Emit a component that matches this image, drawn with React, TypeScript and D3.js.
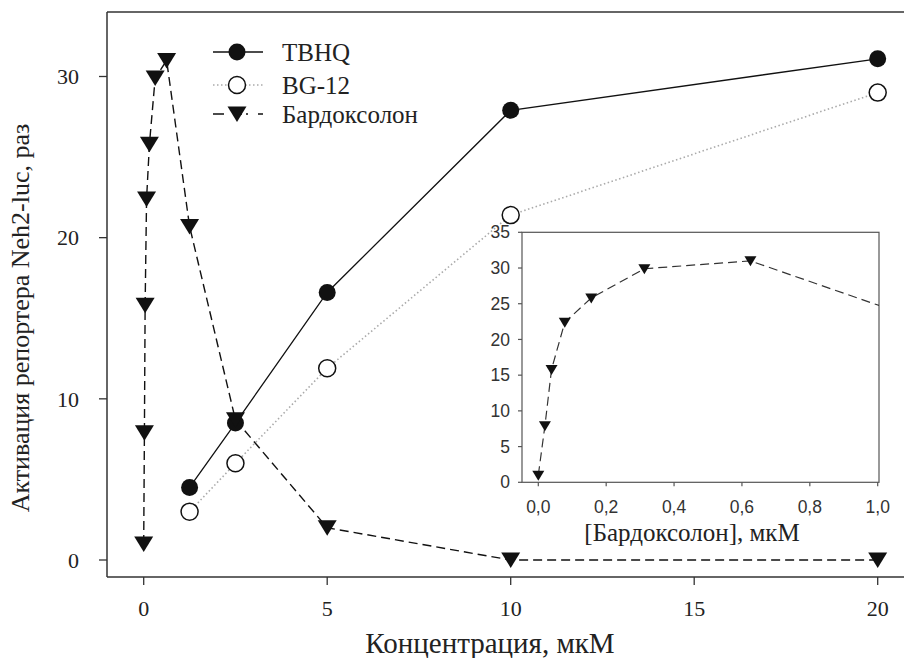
import React from "react";
import * as d3 from "d3";

const conc = [1.25, 2.5, 5, 10, 20];
const tbhq = [4.5, 8.5, 16.6, 27.9, 31.1];
const bg12 = [3.0, 6.0, 11.9, 21.4, 29.0];
const bardConc = [0, 0.0195, 0.039, 0.078, 0.156, 0.3125, 0.625, 1.25, 2.5, 5, 10, 20];
const bardoxolone = [1, 7.9, 15.8, 22.4, 25.8, 29.9, 31.0, 20.7, 8.7, 2.0, 0, 0];
const xTicks = [0, 5, 10, 15, 20];
const yTicks = [0, 10, 20, 30];
const insetXTicks = [0, 0.2, 0.4, 0.6, 0.8, 1.0];
const insetYTicks = [0, 5, 10, 15, 20, 25, 30, 35];
const legendLabels = ["TBHQ", "BG-12", "Бардоксолон"];
const xTitle = "Концентрация, мкМ";
const yTitle = "Активация репортера Neh2-luc, раз";
const insetTitle = "[Бардоксолон], мкМ";

const SERIF = "'Liberation Serif', 'Times New Roman', serif";
const SANS = "'Liberation Sans', Arial, sans-serif";

const W = 904, H = 658;

function tri(cx: number, cy: number, hw: number, up: number, down: number) {
  return `M${cx - hw},${cy - up}L${cx + hw},${cy - up}L${cx},${cy + down}Z`;
}

export default function App() {
  const x = d3.scaleLinear().domain([0, 20]).range([143.7, 877.7]);
  const y = d3.scaleLinear().domain([0, 30]).range([560, 76.5]);
  const left = x(-1), right = W, top = 12, bottom = 577;

  const ix = d3.scaleLinear().domain([0, 1]).range([538.3, 877.7]);
  const iy = d3.scaleLinear().domain([0, 35]).range([482.3, 232.3]);
  const iLeft = 522, iRight = 879, iTop = iy(35), iBottom = iy(0);

  const tbhqPts = conc.map((c, i) => [c, tbhq[i]] as [number, number]);
  const bgPts = conc.map((c, i) => [c, bg12[i]] as [number, number]);
  const bardPts = bardConc.map((c, i) => [c, bardoxolone[i]] as [number, number]);

  const line = d3.line<[number, number]>().x(d => x(d[0])).y(d => y(d[1]));
  const iline = d3.line<[number, number]>().x(d => ix(d[0])).y(d => iy(d[1]));

  const fmtInset = (v: number) => d3.format(".1f")(v).replace(".", ",");

  const lg = [52, 85, 114];

  return (
    <svg width={W} height={H} style={{ position: "absolute", left: 0, top: 0, background: "#fff" }}>
      <rect x={0} y={0} width={W} height={H} fill="#fff" />
      {/* frame */}
      <g stroke="#333" strokeWidth={1.5} fill="none">
        <line x1={left} y1={top} x2={left} y2={bottom} />
        <line x1={left} y1={top} x2={right} y2={top} />
        <line x1={left} y1={bottom} x2={right} y2={bottom} />
      </g>
      {/* y ticks */}
      {yTicks.map(t => (
        <g key={"yt" + t}>
          <line x1={left - 8} x2={left} y1={y(t)} y2={y(t)} stroke="#333" strokeWidth={1.3} />
          <text x={79} y={y(t)} dy="0.35em" textAnchor="end" fontFamily={SERIF} fontSize={22} fill="#222">{t}</text>
        </g>
      ))}
      {/* x ticks */}
      {xTicks.map(t => (
        <g key={"xt" + t}>
          <line x1={x(t)} x2={x(t)} y1={bottom} y2={bottom + 8} stroke="#333" strokeWidth={1.3} />
          <text x={x(t)} y={616} textAnchor="middle" fontFamily={SERIF} fontSize={22} fill="#222">{t}</text>
        </g>
      ))}
      <text x={490} y={653} textAnchor="middle" fontFamily={SERIF} fontSize={29} fill="#222">{xTitle}</text>
      <text transform={`translate(29,318) rotate(-90)`} textAnchor="middle" fontFamily={SERIF} fontSize={26} fill="#222">{yTitle}</text>

      {/* series lines */}
      <path d={line(bgPts) || ""} fill="none" stroke="#aaa" strokeWidth={1.6} strokeDasharray="1.5,2.5" />
      <path d={line(tbhqPts) || ""} fill="none" stroke="#111" strokeWidth={1.3} />
      <path d={line(bardPts) || ""} fill="none" stroke="#111" strokeWidth={1.4} strokeDasharray="9,5" />

      {/* markers */}
      {bgPts.map((p, i) => (
        <circle key={"bg" + i} cx={x(p[0])} cy={y(p[1])} r={8.5} fill="#fff" stroke="#111" strokeWidth={1.5} />
      ))}
      {tbhqPts.map((p, i) => (
        <circle key={"tb" + i} cx={x(p[0])} cy={y(p[1])} r={8.5} fill="#111" />
      ))}
      {bardPts.map((p, i) => (
        <path key={"bd" + i} d={tri(x(p[0]), y(p[1]), 9.5, 7.5, 8)} fill="#111" />
      ))}

      {/* legend */}
      <line x1={213} x2={263} y1={lg[0]} y2={lg[0]} stroke="#111" strokeWidth={1.3} />
      <circle cx={237} cy={lg[0]} r={8.5} fill="#111" />
      <line x1={213} x2={263} y1={lg[1]} y2={lg[1]} stroke="#aaa" strokeWidth={1.6} strokeDasharray="1.5,2.5" />
      <circle cx={237} cy={lg[1]} r={8.5} fill="#fff" stroke="#111" strokeWidth={1.5} />
      <line x1={213} x2={263} y1={lg[2]} y2={lg[2]} stroke="#111" strokeWidth={1.4} strokeDasharray="11,13,5,4,2,10" />
      <path d={tri(237, lg[2], 9.5, 7.5, 8)} fill="#111" />
      {legendLabels.map((l, i) => (
        <text key={l} x={282} y={lg[i]} dy="0.35em" fontFamily={SERIF} fontSize={25} fill="#222">{l}</text>
      ))}

      {/* inset */}
      <defs>
        <clipPath id="insetClip">
          <rect x={iLeft} y={iTop} width={iRight - iLeft} height={iBottom - iTop} />
        </clipPath>
      </defs>
      <rect x={iLeft} y={iTop} width={iRight - iLeft} height={iBottom - iTop} fill="#fff" stroke="#555" strokeWidth={1.2} />
      {insetYTicks.map(t => (
        <g key={"iyt" + t}>
          <line x1={iLeft - 4} x2={iLeft} y1={iy(t)} y2={iy(t)} stroke="#555" strokeWidth={1.2} />
          <text x={510} y={iy(t)} dy="0.35em" textAnchor="end" fontFamily={SANS} fontSize={17.5} fill="#333">{t}</text>
        </g>
      ))}
      {insetXTicks.map(t => (
        <g key={"ixt" + t}>
          <line x1={ix(t)} x2={ix(t)} y1={iBottom} y2={iBottom + 4} stroke="#555" strokeWidth={1.2} />
          <text x={ix(t)} y={513} textAnchor="middle" fontFamily={SANS} fontSize={17.5} fill="#333">{fmtInset(t)}</text>
        </g>
      ))}
      <g clipPath="url(#insetClip)">
        <path d={iline(bardPts) || ""} fill="none" stroke="#333" strokeWidth={1.2} strokeDasharray="9,5" />
      </g>
      {bardPts.filter(p => p[0] <= 1).map((p, i) => (
        <path key={"ibd" + i} d={tri(ix(p[0]), iy(p[1]), 6, 4.5, 5.5)} fill="#111" />
      ))}
      <text x={692} y={541} textAnchor="middle" fontFamily={SERIF} fontSize={25} fill="#222">{insetTitle}</text>
    </svg>
  );
}
